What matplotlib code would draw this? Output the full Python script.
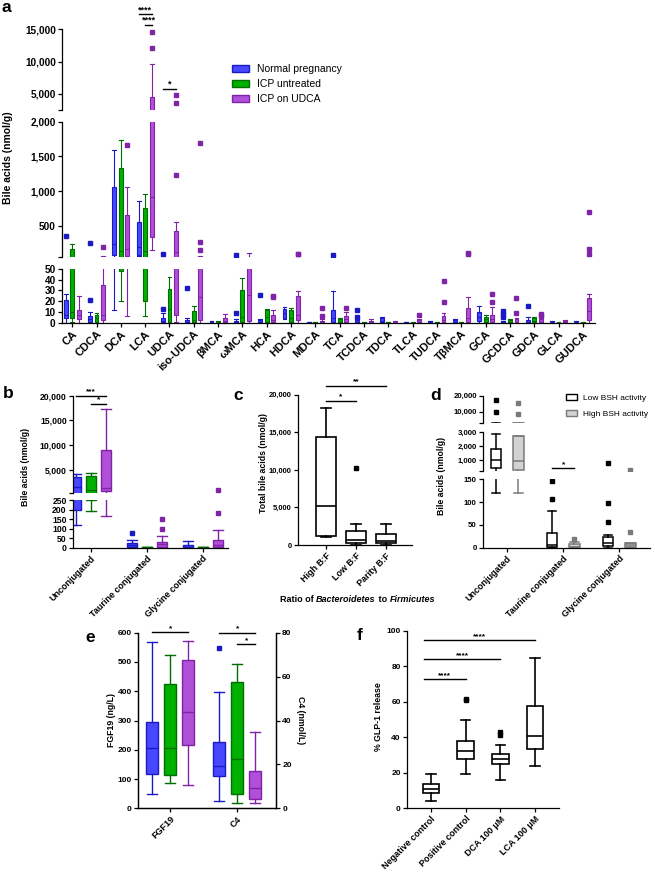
import matplotlib
matplotlib.use("Agg")
import matplotlib.pyplot as plt
from matplotlib.patches import Patch

plt.rcParams.update({"font.family": ["Liberation Sans", "DejaVu Sans"], "font.weight": "bold",
                     "axes.linewidth": 0.9, "xtick.major.width": 0.9, "ytick.major.width": 0.9,
                     "xtick.major.size": 3, "ytick.major.size": 3})

W, H = 655, 873

# ---- panel a: per-group box stats (whislo, q1, med, q3, whishi, fliers) ----
A_CATS = ["CA", "CDCA", "DCA", "LCA", "UDCA", "iso-UDCA", "βMCA", "ωMCA", "HCA", "HDCA", "MDCA",
          "TCA", "TCDCA", "TDCA", "TLCA", "TUDCA", "TβMCA", "GCA", "GCDCA", "GDCA", "GLCA", "GUDCA"]
A_NORMAL = [(0, 4, 7, 21, 27, [360]), (0, 1, 3, 6, 10, [21, 255]), (12, 85, 236, 1060, 1600, []),
            (70, 90, 205, 557, 860, []), (0, 0.3, 1.5, 4.5, 9, [13, 100]), (0, 0.3, 1, 2.5, 4, [32]),
            (0, 0.3, 0.8, 1.5, 2, []), (0, 0.3, 0.8, 2, 3, [9, 80]), (0, 0.3, 1, 2.5, 3.5, [26]),
            (3, 4, 9, 12.5, 15, []), (0, 0.1, 0.3, 0.6, 1, []), (0, 0.5, 4, 11.5, 29.5, [90]),
            (0, 0.2, 0.8, 2.5, 3.5, [5.5, 12]), (0, 0.5, 2, 4.5, 5.5, []), (0, 0.1, 0.3, 0.6, 1, []),
            (0, 0.2, 0.5, 1.5, 2, []), (0, 0.3, 1, 2.5, 3, []), (0, 2, 5.5, 9.5, 15.5, []),
            (0, 0.3, 0.8, 1.5, 2, [5, 8.5, 11]), (0, 0.3, 1, 2.5, 5, [15.5]), (0, 0.2, 0.5, 1, 1.5, []),
            (0, 0.2, 0.5, 1, 1.5, [])]
A_UNTREATED = [(0.5, 4, 10, 170, 240, []), (0, 0.5, 4, 7, 9, []), (20, 48, 141, 1330, 1740, []),
               (6, 20, 141, 755, 965, []), (0, 0.3, 13, 31, 42, []), (0, 0.3, 2.5, 11, 15.5, []),
               (0, 0.1, 0.3, 0.8, 1.2, []), (0, 0.3, 5, 30, 41, []), (0, 0.5, 5.5, 11.5, 13, []),
               (0, 1, 4, 12, 14, []), (0, 0.05, 0.1, 0.3, 0.8, []), (0, 0.3, 1, 3, 4, []),
               (0, 0.05, 0.1, 0.2, 1, []), (0, 0.05, 0.1, 0.2, 1, []), (0, 0.05, 0.1, 0.2, 0.8, []),
               (0, 0.05, 0.1, 0.2, 1, []), (0, 0.05, 0.1, 0.2, 1, []), (0, 0.6, 3.4, 5.6, 7, []),
               (0, 0.3, 1, 2.5, 3, []), (0, 0.5, 2, 4.6, 5.6, []), (0, 0.05, 0.1, 0.2, 0.8, []),
               (0, 0.05, 0.1, 0.2, 0.8, [])]
A_UDCA = [(0, 3, 7, 12, 25, []), (0, 2.5, 7, 35, 70, [200]), (6, 70, 165, 660, 1060, [1670]),
          (150, 340, 920, 4490, 9640, [12180, 14640]), (1, 7, 127, 429, 557, [1230, 3560, 4860]),
          (0, 2.5, 24, 52, 66, [150, 265, 1700]), (0, 0.3, 2, 4, 8, []), (0, 1.5, 26, 60, 115, []),
          (0, 0.6, 2.5, 7, 12, [23.5, 24.5]), (0, 2.5, 7, 25, 29.5, [97, 102]),
          (0, 0.2, 0.8, 2, 3, [6, 14]), (0, 0.6, 3, 6.5, 10, [14]), (0, 0.2, 0.6, 1.5, 3, []),
          (0, 0.2, 0.5, 1, 1.5, []), (0, 0.3, 1, 2.5, 3, [7]), (0, 0.5, 2.5, 6, 8.6, [19.5, 39]),
          (0, 0.5, 4, 14, 23.5, [100, 115]), (0, 0.6, 3, 7, 15, [19.5, 27]),
          (0, 0.3, 1, 3, 4, [8.6, 23]), (0, 0.3, 1, 3, 4.5, [6, 8.5]), (0, 0.3, 1, 2, 2.5, []),
          (0, 2.5, 10.8, 22.5, 27, [100, 165, 700])]
A_SIG = [(3, 0, 2, 17360, "****"), (3, 1, 2, 15660, "****"), (4, 0, 2, 5770, "*")]
GROUPS = ["Normal pregnancy", "ICP untreated", "ICP on UDCA"]
COLORS = [("#4747ff", "#1a1ac4"), ("#00b000", "#006e00"), ("#b04fd8", "#8123a6")]

# ---- panel b ----
B_CATS = ["Unconjugated", "Taurine conjugated", "Glycine conjugated"]
B_NORMAL = [(119, 198, 1500, 3590, 4190, []), (0, 5, 14, 23, 41, [77]), (0, 0.5, 5, 14, 35, [])]
B_UNTREATED = [(190, 248, 1000, 3790, 4460, []), (0, 0.5, 1.5, 3, 5, []), (0, 0.5, 1.5, 3, 5, [])]
B_UDCA = [(166, 800, 1400, 9040, 17250, []), (0, 5, 18, 32, 59, [100, 148]),
          (0, 5, 14, 41, 95, [180, 950])]
B_SIG = [(0, 0, 2, 20000, "***"), (0, 1, 2, 18400, "*")]

# ---- panel c ----
C_CATS = ["High B:F", "Low B:F", "Parity B:F"]
C_STATS = [(1000, 1150, 5170, 14400, 18200, []), (60, 220, 660, 1900, 2800, [10200]),
           (60, 220, 530, 1460, 2750, [])]
C_SIG = [(0, 2, 21200, "**"), (0, 1, 19200, "*")]

# ---- panel d ----
D_CATS = B_CATS
D_LOW = [(120, 400, 1000, 1800, 2900, [10000, 17300]), (0, 2, 7, 32, 80, [107, 146]),
         (0, 4, 10, 24, 28, [57, 98, 810])]
D_HIGH = [(120, 250, 930, 2700, 2700, [8500, 15600]), (0, 0.5, 2, 8, 13, [19]),
          (0, 0.5, 6, 11, 11, [35, 290])]
D_SIG = [(1, 420, "*")]

# ---- panel e ----
E_CATS = ["FGF19", "C4"]
E_FGF19 = [(48, 118, 205, 294, 569, []), (85, 114, 205, 424, 524, []), (79, 215, 328, 507, 573, [])]
E_C4 = [(3.5, 14.7, 19.3, 30, 53, [73]), (2.3, 6.4, 22.6, 57.4, 65.7, []),
        (2.3, 4.1, 9.4, 17.2, 34.6, [])]

# ---- panel f ----
F_CATS = ["Negative control", "Positive control", "DCA 100 μM", "LCA 100 μM"]
F_STATS = [(4.3, 8.4, 11, 13.7, 19.3, []), (19.5, 28, 32.3, 38, 50, [61, 61.7]),
           (16, 25, 27.8, 30.8, 35.5, [41, 42.8]), (23.8, 33.6, 40.7, 57.6, 84.6, [])]
F_SIG = [(1, 72.8), (2, 84.1), (3, 94.8)]

fig = plt.figure(figsize=(W / 100, H / 100), dpi=100)


def px_axes(l, t, r, b):
    return fig.add_axes([l / W, 1 - b / H, (r - l) / W, (b - t) / H])


def draw_boxes(ax, stats, pos, width, face, edge, lw=0.8, ms=2.4, cap=1.0, lim=None):
    lo, hi = lim if lim else (-1e9, 1e9)
    bs = [dict(whislo=s[0], q1=s[1], med=s[2], q3=s[3], whishi=s[4],
               fliers=[f for f in s[5] if lo <= f <= hi]) for s in stats]
    ax.bxp(bs, positions=pos, widths=width, patch_artist=True, manage_ticks=False,
           capwidths=width * cap,
           boxprops=dict(facecolor=face, edgecolor=edge, linewidth=lw),
           whiskerprops=dict(color=edge, linewidth=lw), capprops=dict(color=edge, linewidth=lw),
           medianprops=dict(color=edge, linewidth=lw),
           flierprops=dict(marker="s", markerfacecolor=edge, markeredgecolor=edge,
                           markersize=ms, linestyle="none"))


def style(ax, bottom=True, ysize=6, xsize=6.5):
    ax.spines["top"].set_visible(False)
    ax.spines["right"].set_visible(False)
    ax.patch.set_alpha(0)
    ax.tick_params(axis="y", labelsize=ysize, pad=1.5)
    ax.tick_params(axis="x", labelsize=xsize, pad=1.5)
    if not bottom:
        ax.spines["bottom"].set_visible(False)
        ax.tick_params(axis="x", bottom=False, labelbottom=False)


def yticks(ax, ticks, blank=()):
    ax.set_yticks(ticks, ["" if t in blank else f"{t:,}" for t in ticks])


def sig(ax, x0, x1, y, label, fs=6):
    ax.plot([x0, x1], [y, y], color="k", lw=1, clip_on=False, zorder=5)
    ax.text((x0 + x1) / 2, y, label, ha="center", va="bottom", fontsize=fs, clip_on=False)


def xlabels(ax, cats, size):
    ax.set_xticks(range(len(cats)))
    ax.set_xticklabels(cats, rotation=45, ha="right", rotation_mode="anchor", fontsize=size)


# ================= panel a =================
A_OFF = 0.27
a_segs = [(2500, 15000, 29.3, 110, [2500, 5000, 10000, 15000]),
          (50, 2000, 121.7, 257.3, [50, 500, 1000, 1500, 2000]),
          (0, 50, 268.7, 322.7, [0, 10, 20, 30, 40, 50])]
for k, (lo, hi, t, b, ticks) in enumerate(a_segs):
    ax = px_axes(62, t, 595, b)
    for g, stats in enumerate([A_NORMAL, A_UNTREATED, A_UDCA]):
        pos = [i + (g - 1) * A_OFF for i in range(len(A_CATS))]
        draw_boxes(ax, stats, pos, 0.16, *COLORS[g], ms=2.6, lim=(lo, hi))
    ax.set_xlim(-0.42, 21.5)
    ax.set_ylim(lo, hi)
    last = k == len(a_segs) - 1
    style(ax, bottom=last, ysize=7.2)
    yticks(ax, ticks, blank=() if last else (lo,))
    if last:
        xlabels(ax, A_CATS, 8)
    if k == 0:
        for c, g0, g1, y, lab in A_SIG:
            sig(ax, c + (g0 - 1) * A_OFF, c + (g1 - 1) * A_OFF, y, lab, fs=6.5)
        handles = [Patch(facecolor=f, edgecolor=e, linewidth=1) for f, e in COLORS]
        ax.legend(handles, GROUPS, loc="upper left", bbox_to_anchor=(232 / W, 1 - 64 / H),
                  bbox_transform=fig.transFigure, frameon=False, borderpad=0,
                  borderaxespad=0, handlelength=1.6, handleheight=0.6, labelspacing=0.5,
                  handletextpad=0.8, prop={"size": 7.5, "weight": "normal"})
fig.text(8 / W, 1 - 158 / H, "Bile acids (nmol/g)", rotation=90, ha="center", va="center",
         fontsize=7.5)

# ================= panel b =================
B_OFF = 0.27
b_segs = [(300, 20000, 395.7, 493.3, [300, 5000, 10000, 15000, 20000]),
          (0, 250, 500, 547.7, [0, 50, 100, 150, 200, 250])]
for k, (lo, hi, t, b, ticks) in enumerate(b_segs):
    ax = px_axes(73, t, 228, b)
    for g, stats in enumerate([B_NORMAL, B_UNTREATED, B_UDCA]):
        pos = [i + (g - 1) * B_OFF for i in range(len(B_CATS))]
        draw_boxes(ax, stats, pos, 0.18, *COLORS[g], lw=1.0, ms=2.2, lim=(lo, hi))
    ax.set_xlim(-0.32, 2.45)
    ax.set_ylim(lo, hi)
    last = k == 1
    style(ax, bottom=last, ysize=6.2)
    yticks(ax, ticks, blank=() if last else (lo,))
    if last:
        xlabels(ax, B_CATS, 6.5)
    else:
        for c, g0, g1, y, lab in B_SIG:
            sig(ax, c + (g0 - 1) * B_OFF, c + (g1 - 1) * B_OFF, y, lab)
fig.text(26 / W, 1 - 467 / H, "Bile acids (nmol/g)", rotation=90, ha="center", va="center",
         fontsize=6.3)

# ================= panel c =================
ax = px_axes(298, 394.7, 412, 545)
draw_boxes(ax, C_STATS, list(range(3)), 0.67, "white", "black", lw=1.2, ms=2.4, cap=0.5)
ax.set_xlim(-0.93, 2.87)
ax.set_ylim(0, 20000)
style(ax, ysize=5.4)
yticks(ax, [0, 5000, 10000, 15000, 20000])
xlabels(ax, C_CATS, 6.5)
for c0, c1, y, lab in C_SIG:
    sig(ax, c0, c1, y, lab)
fig.text(264 / W, 1 - 463 / H, "Total bile acids (nmol/g)", rotation=90, ha="center",
         va="center", fontsize=6.3)
t1 = fig.text(280 / W, 1 - 599 / H, "Ratio of ", fontsize=6.5, va="center", ha="left")
t2 = ax.annotate("Bacteroidetes", xy=(1, 0), xycoords=t1, va="bottom", ha="left",
                 fontsize=6.5, style="italic")
t3 = ax.annotate(" to ", xy=(1, 0), xycoords=t2, va="bottom", ha="left", fontsize=6.5)
ax.annotate("Firmicutes", xy=(1, 0), xycoords=t3, va="bottom", ha="left", fontsize=6.5,
            style="italic")

# ================= panel d =================
D_OFF = 0.2
d_segs = [(3000, 20000, 395.7, 423, [3000, 10000, 20000]),
          (200, 3000, 432.3, 471, [200, 1000, 2000, 3000]),
          (0, 150, 479.3, 547.7, [0, 50, 100, 150])]
D_COLORS = [("white", "black"), ("#d2d2d2", "#7a7a7a")]
for k, (lo, hi, t, b, ticks) in enumerate(d_segs):
    ax = px_axes(483, t, 650, b)
    for g, stats in enumerate([D_LOW, D_HIGH]):
        pos = [i + (2 * g - 1) * D_OFF for i in range(len(D_CATS))]
        draw_boxes(ax, stats, pos, 0.19, *D_COLORS[g], lw=1.1, ms=2.2, cap=0.8, lim=(lo, hi))
    ax.set_xlim(-0.43, 2.55)
    ax.set_ylim(lo, hi)
    last = k == 2
    style(ax, bottom=last, ysize=5.6)
    yticks(ax, ticks, blank=() if last else (lo,))
    if last:
        xlabels(ax, D_CATS, 6.5)
    if k == 1:
        for c, y, lab in D_SIG:
            sig(ax, c - D_OFF, c + D_OFF, y, lab)
    if k == 0:
        handles = [Patch(facecolor=f, edgecolor=e, linewidth=1) for f, e in D_COLORS]
        ax.legend(handles, ["Low BSH activity", "High BSH activity"], loc="upper left",
                  bbox_to_anchor=(566 / W, 1 - 394 / H), bbox_transform=fig.transFigure,
                  frameon=False, borderpad=0, borderaxespad=0, handlelength=1.3,
                  handleheight=0.7, labelspacing=1.0, handletextpad=0.7,
                  prop={"size": 6, "weight": "normal"})
fig.text(441 / W, 1 - 476 / H, "Bile acids (nmol/g)", rotation=90, ha="center", va="center",
         fontsize=6.3)

# ================= panel e =================
E_OFF = 0.27
ax = px_axes(138, 632.7, 276, 808.3)
ax2 = ax.twinx()
for g in range(3):
    draw_boxes(ax, [E_FGF19[g]], [0 + (g - 1) * E_OFF], 0.18, *COLORS[g], lw=1.0, ms=2.2, cap=0.8)
    draw_boxes(ax2, [E_C4[g]], [1 + (g - 1) * E_OFF], 0.18, *COLORS[g], lw=1.0, ms=2.2, cap=0.8)
for a_ in (ax, ax2):
    a_.set_xlim(-0.48, 1.58)
    a_.spines["top"].set_visible(False)
    a_.tick_params(labelsize=6, pad=1.5)
ax.set_ylim(0, 600)
ax.set_yticks(range(0, 601, 100))
ax2.set_ylim(0, 80)
ax2.set_yticks(range(0, 81, 20))
ax2.spines["right"].set_visible(True)
xlabels(ax, E_CATS, 6.5)
sig(ax, -E_OFF, E_OFF, 602, "*")
sig(ax2, 1 - E_OFF, 1 + E_OFF, 80, "*")
sig(ax2, 1, 1 + E_OFF, 74.9, "*")
fig.text(112 / W, 1 - 720 / H, "FGF19 (ng/L)", rotation=90, ha="center", va="center", fontsize=6.3)
fig.text(300 / W, 1 - 720 / H, "C4 (nmol/L)", rotation=270, ha="center", va="center", fontsize=6.3)

# ================= panel f =================
ax = px_axes(407, 630.7, 559, 808.3)
draw_boxes(ax, F_STATS, list(range(4)), 0.48, "white", "black", lw=1.2, ms=2.6, cap=0.55)
ax.set_xlim(-0.69, 3.69)
ax.set_ylim(0, 100)
ax.set_yticks(range(0, 101, 20))
style(ax)
xlabels(ax, F_CATS, 6.5)
for c, y in F_SIG:
    sig(ax, -0.2, c, y, "****")
fig.text(378 / W, 1 - 717 / H, "% GLP-1 release", rotation=90, ha="center", va="center",
         fontsize=6.3)

# panel letters
for lab, x, y in [("a", 1, 12), ("b", 3, 398), ("c", 233, 400), ("d", 430, 400),
                  ("e", 85, 642), ("f", 357, 640)]:
    fig.text(x / W, 1 - y / H, lab, fontsize=12.5, fontweight="bold", va="baseline", ha="left")

fig.savefig("out.png", dpi=100)
